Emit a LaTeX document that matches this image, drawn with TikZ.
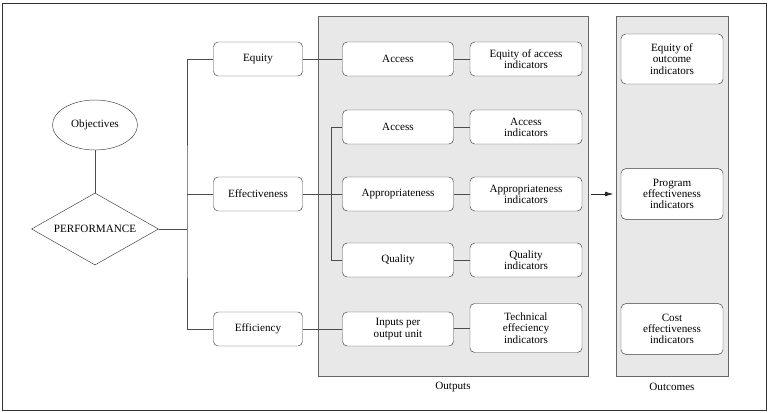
\documentclass[tikz,border=0pt]{standalone}
\usepackage{fontspec}
\setmainfont{Liberation Serif}
\usetikzlibrary{shapes.geometric,arrows.meta}

\tikzset{
	lbox/.style={draw=black!75,fill=white,rounded corners=4pt,align=center,inner sep=1pt,minimum height=1.02cm},
	panel/.style={draw=black!60,fill=black!9,minimum width=#1,minimum height=10.8cm,inner sep=0pt},
	wire/.style={draw=black!70,line width=0.6pt}
}

\begin{document}
\begin{tikzpicture}[x=0.03cm,y=-0.03cm,font=\rmfamily\fontsize{9.5pt}{9.6pt}\selectfont]
	\useasboundingbox (0,0) rectangle (772,412);
	\draw[black!80,line width=0.6pt] (2,3) rectangle (766,410);

	% panels
	\node[panel=8.1cm] (outbox) at (453,196) {};
	\node[panel=3.36cm] (outcbox) at (672,196) {};
	\node (outlbl) at (453,387) {Outputs};
	\node (outclbl) at (672,387) {Outcomes};

	\node[draw=black!75,ellipse,minimum width=2.55cm,minimum height=1.5cm,inner sep=0pt] (obj) at (95,125) {Objectives};
	\node[draw=black!75,diamond,shape aspect=1.76,minimum width=3.81cm,minimum height=2.16cm,inner sep=0pt] (perf) at (95,229) {PERFORMANCE};

	\node[lbox,minimum width=2.67cm] (equity) at (258,59) {Equity};
	\node[lbox,minimum width=2.67cm] (effect) at (258,194) {Effectiveness};
	\node[lbox,minimum width=2.67cm] (effic) at (258,329) {Efficiency};

	\node[lbox,minimum width=3.33cm] (acca) at (398,59) {Access};
	\node[lbox,minimum width=3.33cm] (accb) at (398,127) {Access};
	\node[lbox,minimum width=3.33cm] (approp) at (398,194) {Appropriateness};
	\node[lbox,minimum width=3.33cm] (qual) at (398,260) {Quality};
	\node[lbox,minimum width=3.33cm] (inputs) at (398,329) {Inputs per\\output unit};

	\node[lbox,minimum width=3.36cm] (eqind) at (526,59) {Equity of access\\indicators};
	\node[lbox,minimum width=3.36cm] (accind) at (526,127) {Access\\indicators};
	\node[lbox,minimum width=3.36cm] (appind) at (526,194) {Appropriateness\\indicators};
	\node[lbox,minimum width=3.36cm] (qualind) at (526,260) {Quality\\indicators};
	\node[lbox,minimum width=3.36cm,minimum height=1.47cm] (techind) at (526,328) {Technical\\effeciency\\indicators};

	\node[lbox,minimum width=3.06cm,minimum height=1.5cm] (eqout) at (672,59) {Equity of\\outcome\\indicators};
	\node[lbox,minimum width=3.06cm,minimum height=1.52cm] (progout) at (672,194) {Program\\effectiveness\\indicators};
	\node[lbox,minimum width=3.06cm,minimum height=1.52cm] (costout) at (672,329) {Cost\\effectiveness\\indicators};

	% connectors
	\coordinate (trunk) at (187,229);
	\draw[wire] (obj) -- (perf);
	\draw[wire] (perf.east) -- (trunk);
	\draw[wire] (equity.west) -| (trunk) |- (effic.west);
	\draw[wire] (effect.west) -- (effect.west -| trunk);

	\draw[wire] (equity) -- (acca);
	\draw[wire] (effect) -- (approp);
	\draw[wire] (effic) -- (inputs);
	\draw[wire] (accb.west) -- ++(-11,0) |- (qual.west);

	\draw[wire] (acca) -- (eqind);
	\draw[wire] (accb) -- (accind);
	\draw[wire] (approp) -- (appind);
	\draw[wire] (qual) -- (qualind);
	\draw[wire] (inputs) -- (techind);

	\draw[wire,draw=black!85,-{Latex[length=7pt,width=4pt]},shorten <=2pt,shorten >=2pt] (outbox.east |- appind) -- (outcbox.west |- appind);

\end{tikzpicture}
\end{document}
